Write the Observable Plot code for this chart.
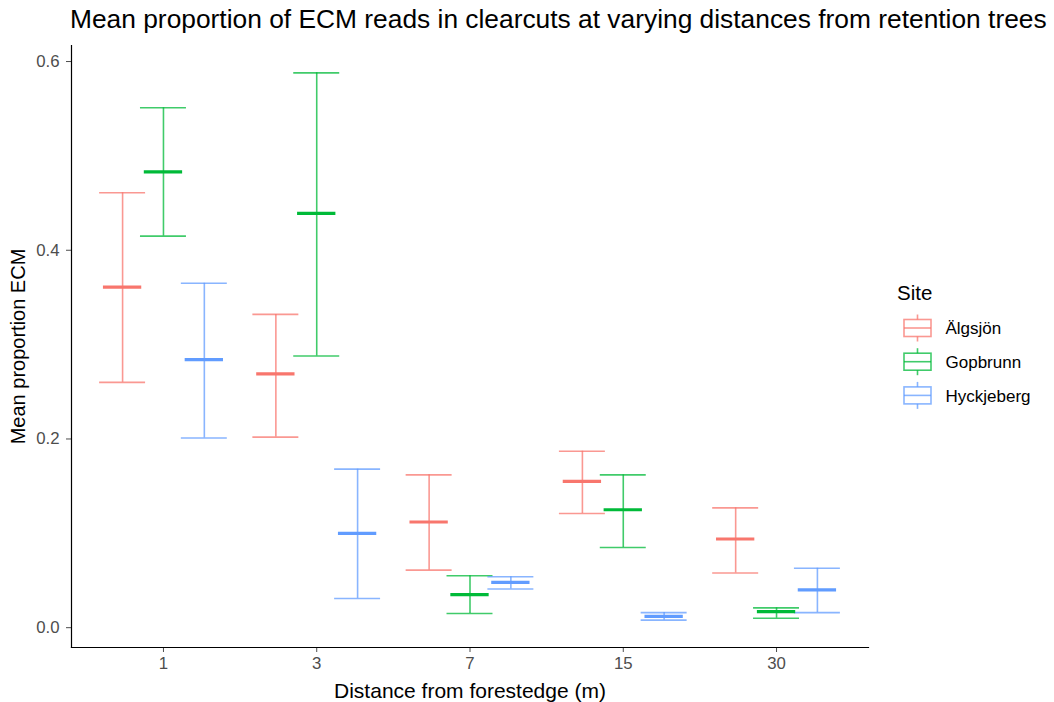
<!DOCTYPE html>
<html>
<head>
<meta charset="utf-8">
<script src="https://cdn.jsdelivr.net/npm/d3@7"></script>
<script src="https://cdn.jsdelivr.net/npm/@observablehq/plot@0.6"></script>
<style>
  body { margin: 0; background: #fff; font-family: "Liberation Sans", Arial, sans-serif; }
  #chart { position: relative; width: 1054px; height: 702px; overflow: hidden; background: #fff; }
  #title { position: absolute; left: 70px; top: 4px; font-size: 26.35px; color: #000; white-space: nowrap; line-height: 30px; }
  #plot { position: absolute; left: 0; top: 45px; }
  #legend { position: absolute; left: 890px; top: 276px; }
</style>
</head>
<body>
<div id="chart">
  <div id="title">Mean proportion of ECM reads in clearcuts at varying distances from retention trees</div>
  <div id="plot"></div>
  <div id="legend"></div>
</div>
<script>
// Distance classes (m) and sites
const distances = ["1", "3", "7", "15", "30"];
const sites = ["Älgsjön", "Gopbrunn", "Hyckjeberg"];
const siteColors = ["#F8766D", "#00BA38", "#619CFF"];
const yTicks = [0, 0.2, 0.4, 0.6];

// Mean proportion of ECM reads per distance, with lower / upper error limits
const meanAlgsjon = [0.361, 0.269, 0.112, 0.155, 0.094];
const lowAlgsjon  = [0.260, 0.202, 0.061, 0.121, 0.058];
const highAlgsjon = [0.461, 0.332, 0.162, 0.187, 0.127];

const meanGopbrunn = [0.483, 0.439, 0.035, 0.125, 0.017];
const lowGopbrunn  = [0.415, 0.288, 0.015, 0.085, 0.010];
const highGopbrunn = [0.551, 0.588, 0.055, 0.162, 0.021];

const meanHyckjeberg = [0.284, 0.100, 0.048, 0.012, 0.040];
const lowHyckjeberg  = [0.201, 0.031, 0.041, 0.008, 0.016];
const highHyckjeberg = [0.365, 0.168, 0.054, 0.016, 0.063];

const series = [
  {mean: meanAlgsjon, low: lowAlgsjon, high: highAlgsjon},
  {mean: meanGopbrunn, low: lowGopbrunn, high: highGopbrunn},
  {mean: meanHyckjeberg, low: lowHyckjeberg, high: highHyckjeberg}
];

// Discrete x positions dodged by site (dodge width 0.8, as in ggplot)
const dodgeWidth = 0.8;
const step = dodgeWidth / sites.length;
const capHalf = 0.9 / sites.length / 2;    // error bar caps
const meanHalf = 0.75 / sites.length / 2;  // mean line

const rows = [];
sites.forEach((site, i) => {
  distances.forEach((dist, j) => {
    rows.push({
      site, distance: dist,
      pos: j + 1 + (i - (sites.length - 1) / 2) * step,
      mean: series[i].mean[j], low: series[i].low[j], high: series[i].high[j]
    });
  });
});

// Continuous y range expanded by 5% on both sides
const lo = d3.min(rows, d => d.low), hi = d3.max(rows, d => d.high);
const pad = (hi - lo) * 0.05;

const fontFamily = '"Liberation Sans", Arial, sans-serif';
const tickColor = "#4D4D4D";

const plot = Plot.plot({
  width: 880,
  height: 657,
  marginLeft: 71,
  marginRight: 12,
  marginTop: 0,
  marginBottom: 55,
  style: {fontFamily, background: "transparent", overflow: "visible"},
  x: {domain: [0.4, distances.length + 0.6]},
  y: {domain: [lo - pad, hi + pad]},
  color: {domain: sites, range: siteColors},
  marks: [
    Plot.axisY({ticks: yTicks, tickFormat: d3.format(".1f"), tickSize: 5, tickPadding: 7,
      fontSize: 16.8, color: tickColor, label: null}),
    Plot.axisY({ticks: [], tickSize: 0, label: "Mean proportion ECM", labelAnchor: "center",
      labelArrow: "none", labelOffset: 61, fontSize: 20, color: "#000"}),
    Plot.axisX({ticks: d3.range(1, distances.length + 1), tickFormat: i => distances[i - 1],
      tickSize: 5, tickPadding: 5, fontSize: 16.8, color: tickColor, label: null}),
    Plot.axisX({ticks: [], tickSize: 0, label: "Distance from forestedge (m)", labelAnchor: "center",
      labelArrow: "none", labelOffset: 50, fontSize: 21, color: "#000"}),
    Plot.frame({anchor: "left", stroke: "#000", strokeWidth: 1.2}),
    Plot.frame({anchor: "bottom", stroke: "#000", strokeWidth: 1.2}),
    // error bars
    Plot.ruleX(rows, {x: "pos", y1: "low", y2: "high", stroke: "site", strokeWidth: 1.6, strokeOpacity: 0.75}),
    Plot.ruleY(rows, {y: "high", x1: d => d.pos - capHalf, x2: d => d.pos + capHalf,
      stroke: "site", strokeWidth: 1.6, strokeOpacity: 0.75}),
    Plot.ruleY(rows, {y: "low", x1: d => d.pos - capHalf, x2: d => d.pos + capHalf,
      stroke: "site", strokeWidth: 1.6, strokeOpacity: 0.75}),
    // means
    Plot.ruleY(rows, {y: "mean", x1: d => d.pos - meanHalf, x2: d => d.pos + meanHalf,
      stroke: "site", strokeWidth: 3.2})
  ]
});
document.getElementById("plot").append(plot);

// Legend built from the plot's colour scale
const color = plot.scale("color");
const legend = d3.select("#legend").append("svg")
  .attr("width", 164).attr("height", 150)
  .style("font-family", fontFamily);
legend.append("text").attr("x", 7).attr("y", 24)
  .attr("font-size", 20.5).attr("fill", "#000").text("Site");
const item = legend.selectAll("g.item").data(color.domain).join("g")
  .attr("class", "item")
  .attr("transform", (d, i) => `translate(0,${52 + i * 33.7})`);
const keyStroke = (d, i) => color.range[i];
item.append("rect").attr("x", 14).attr("y", -8.5).attr("width", 27).attr("height", 17)
  .attr("fill", "none").attr("stroke", keyStroke).attr("stroke-width", 1.6).attr("stroke-opacity", 0.75);
item.append("line").attr("x1", 14).attr("x2", 41).attr("y1", 0).attr("y2", 0)
  .attr("stroke", keyStroke).attr("stroke-width", 1.6).attr("stroke-opacity", 0.75);
item.append("line").attr("x1", 27.5).attr("x2", 27.5).attr("y1", -13.5).attr("y2", -8.5)
  .attr("stroke", keyStroke).attr("stroke-width", 1.6).attr("stroke-opacity", 0.75);
item.append("line").attr("x1", 27.5).attr("x2", 27.5).attr("y1", 8.5).attr("y2", 13.5)
  .attr("stroke", keyStroke).attr("stroke-width", 1.6).attr("stroke-opacity", 0.75);
item.append("text").attr("x", 55.5).attr("y", 0).attr("dy", "0.36em")
  .attr("font-size", 17).attr("fill", "#000").text(d => d);
</script>
</body>
</html>
